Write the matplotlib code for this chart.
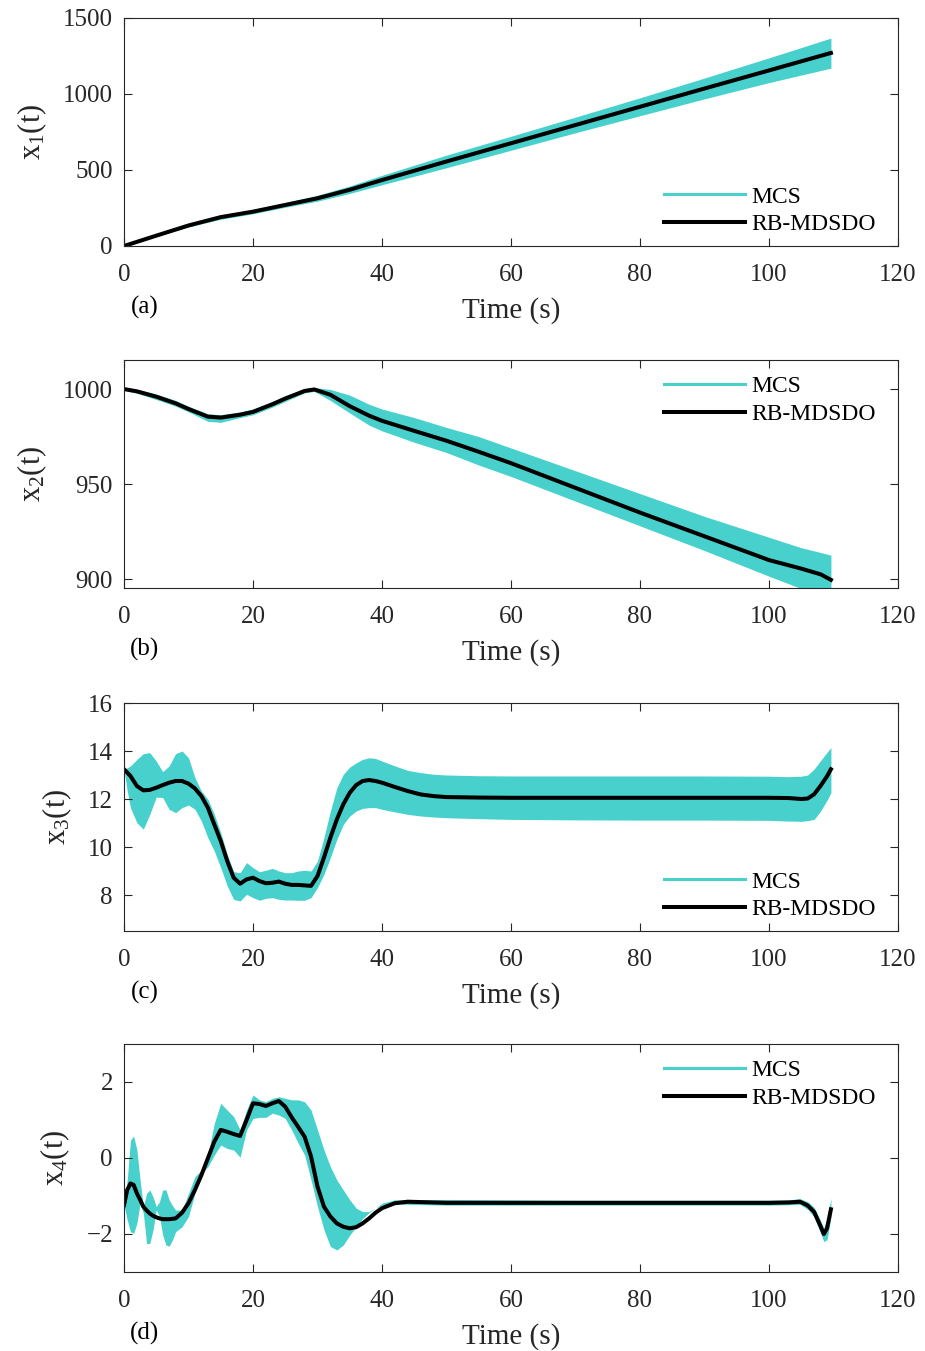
"""Four-state trajectories: MCS band vs RB-MDSDO mean"""
import numpy as np
import matplotlib
matplotlib.use('Agg')
import matplotlib.pyplot as plt

plt.rcParams['font.family'] = ['Liberation Serif', 'DejaVu Serif']
plt.rcParams['mathtext.default'] = 'regular'

BAND_COLOR = '#48D1CC'
AX_COLOR = '#262626'

# ---- x1 ----
t1 = [0, 5, 10, 15, 20, 25, 30, 35, 40, 50, 60, 70, 80, 90, 100, 109.6]
x1_mean = [0, 68, 135, 190, 226, 270, 314, 370, 434, 556, 676, 796, 916, 1036, 1155, 1270]
x1_upper = [0, 74, 145, 204, 240, 286, 334, 395, 465, 598, 722, 848, 975, 1105, 1238, 1368]
x1_lower = [0, 62, 125, 176, 212, 255, 295, 346, 403, 515, 630, 745, 857, 968, 1075, 1170]

# ---- x2 ----
t2 = [0, 2, 5, 8, 10, 13, 15, 18, 20, 23, 25, 28, 29.5, 32, 35, 38, 40, 45, 50, 55,
      60, 70, 80, 90, 100, 105, 108, 109.6]
x2_mean = [1000, 998.8, 996, 992.5, 989.5, 985.5, 985, 986.5, 988, 992, 995, 999, 999.8,
           997, 991, 986, 983.3, 978, 972.8, 967, 961, 948, 935, 922.5, 910, 905.5, 902.5, 899.6]
x2_upper = [1000.5, 999.9, 997.4, 994, 991, 987, 986.5, 988, 989.5, 993.5, 996.5, 1000.3, 1000.8,
            999.8, 996.8, 992, 989.5, 985, 979.8, 975, 969, 957, 945, 933, 922, 916.5, 914, 912.6]
x2_lower = [999.5, 997.8, 994.5, 991, 988, 983, 982.5, 985, 986.5, 990.5, 993.5, 998, 998.8,
            994, 987.4, 981, 978, 972, 966.6, 960, 954, 941, 928, 915, 901.5, 895, 891, 889]

# ---- x3 ----
t3 = [0, 0.5, 1, 2, 3, 4, 5, 6, 7, 8, 9, 10, 11, 12, 13, 14, 15, 16, 17, 18, 19, 20,
      21, 22, 23, 24, 25, 26, 27, 28, 29, 30, 31, 32, 33, 34, 35, 36, 37, 38, 39, 40,
      42, 44, 46, 48, 50, 55, 60, 70, 80, 90, 100, 103, 105, 106, 107, 108, 109, 109.6]
x3_mean = [13.24, 13.1, 12.96, 12.54, 12.36, 12.38, 12.47, 12.58, 12.68, 12.75, 12.75, 12.64,
           12.44, 12.12, 11.64, 10.94, 10.25, 9.42, 8.72, 8.47, 8.65, 8.72, 8.58, 8.49, 8.51,
           8.56, 8.47, 8.42, 8.42, 8.40, 8.38, 8.79, 9.56, 10.39, 11.15, 11.78, 12.26, 12.58,
           12.75, 12.79, 12.75, 12.68, 12.5, 12.33, 12.19, 12.12, 12.08, 12.06, 12.05, 12.05,
           12.05, 12.05, 12.05, 12.04, 12.0, 12.02, 12.2, 12.55, 12.95, 13.24]
x3_upper = [13.24, 13.3, 13.38, 13.65, 13.89, 13.93, 13.58, 13.14, 13.38, 13.89, 14.0, 13.72,
            12.89, 12.33, 11.99, 11.36, 10.6, 9.69, 8.97, 8.93, 9.35, 9.14, 8.97, 9.03, 9.11,
            9.0, 8.93, 8.93, 9.0, 9.03, 9.0, 9.42, 10.39, 11.5, 12.47, 13.03, 13.33, 13.51,
            13.65, 13.72, 13.69, 13.58, 13.38, 13.19, 13.1, 13.03, 13.0, 12.97, 12.96, 12.96,
            12.96, 12.96, 12.95, 12.93, 12.95, 13.0, 13.25, 13.6, 13.95, 14.14]
x3_lower = [13.24, 12.33, 11.64, 11.01, 10.74, 11.36, 12.08, 12.06, 11.57, 11.43, 11.64, 11.75,
            11.57, 11.08, 10.39, 9.83, 9.14, 8.38, 7.82, 7.75, 8.03, 7.89, 7.78, 7.86, 7.89,
            7.82, 7.79, 7.79, 7.78, 7.78, 7.89, 8.31, 8.86, 9.56, 10.32, 10.94, 11.29, 11.5,
            11.61, 11.64, 11.64, 11.57, 11.46, 11.36, 11.29, 11.25, 11.22, 11.18, 11.15, 11.13,
            11.12, 11.12, 11.11, 11.08, 11.07, 11.1, 11.15, 11.5, 11.95, 12.26]

# ---- x4 ----
t4 = [0, 0.5, 1, 1.5, 2, 2.5, 3, 3.5, 4, 4.5, 5, 5.5, 6, 6.5, 7, 7.5, 8, 9, 10, 11, 12,
      13, 14, 15, 16, 17, 18, 19, 20, 21, 22, 23, 24, 25, 26, 27, 28, 29, 30, 31, 32, 33,
      34, 35, 36, 37, 38, 39, 40, 42, 44, 50, 60, 70, 80, 90, 100, 103, 104.8, 106, 107,
      108, 108.5, 109, 109.6]
x4_mean = [-1.24, -0.84, -0.67, -0.71, -0.93, -1.1, -1.28, -1.38, -1.46, -1.52, -1.56, -1.59,
           -1.61, -1.61, -1.61, -1.6, -1.59, -1.44, -1.19, -0.84, -0.45, -0.01, 0.43, 0.74,
           0.69, 0.63, 0.58, 1.0, 1.44, 1.42, 1.37, 1.44, 1.5, 1.35, 1.07, 0.82, 0.56, 0.04,
           -0.75, -1.28, -1.54, -1.72, -1.81, -1.85, -1.82, -1.72, -1.59, -1.44, -1.32, -1.19,
           -1.15, -1.18, -1.18, -1.18, -1.18, -1.18, -1.18, -1.17, -1.15, -1.25, -1.42, -1.8,
           -2.0, -1.85, -1.35]
x4_upper = [-1.24, -0.58, 0.47, 0.58, 0.21, -0.58, -1.28, -0.93, -0.84, -1.02, -1.28, -1.15,
            -0.84, -0.84, -1.1, -1.25, -1.37, -1.37, -0.93, -0.49, -0.32, 0.08, 0.91, 1.44,
            1.26, 1.09, 0.74, 1.26, 1.66, 1.53, 1.48, 1.57, 1.61, 1.57, 1.53, 1.53, 1.48, 1.26,
            0.74, 0.21, -0.23, -0.58, -0.84, -1.1, -1.32, -1.41, -1.41, -1.32, -1.19, -1.1,
            -1.1, -1.09, -1.1, -1.11, -1.11, -1.11, -1.11, -1.1, -1.07, -1.15, -1.3, -1.65,
            -1.85, -1.6, -1.06]
x4_lower = [-1.24, -1.63, -1.94, -1.98, -1.72, -1.19, -1.46, -2.25, -2.25, -1.89, -1.37, -1.54,
            -2.03, -2.29, -2.32, -2.16, -1.94, -1.81, -1.54, -0.93, -0.4, -0.23, 0.08, 0.34,
            0.25, 0.21, 0.02, 0.74, 1.04, 1.07, 1.07, 1.18, 1.13, 1.04, 0.74, 0.39, 0.08, -0.58,
            -1.28, -1.89, -2.33, -2.42, -2.29, -2.03, -1.81, -1.59, -1.44, -1.32, -1.24, -1.21,
            -1.22, -1.24, -1.24, -1.24, -1.24, -1.24, -1.24, -1.23, -1.22, -1.35, -1.55, -1.98,
            -2.2, -2.15, -1.55]

panels = [
    (t1, x1_mean, x1_upper, x1_lower, r'$\mathregular{x_1(t)}$', (0, 1500), [0, 500, 1000, 1500], '(a)', 'lower'),
    (t2, x2_mean, x2_upper, x2_lower, r'$\mathregular{x_2(t)}$', (895.3, 1015.3), [900, 950, 1000], '(b)', 'upper'),
    (t3, x3_mean, x3_upper, x3_lower, r'$\mathregular{x_3(t)}$', (6.5, 16), [8, 10, 12, 14, 16], '(c)', 'lower'),
    (t4, x4_mean, x4_upper, x4_lower, r'$\mathregular{x_4(t)}$', (-3, 3), [-2, 0, 2], '(d)', 'upper'),
]

fig = plt.figure(figsize=(9.25, 13.51), dpi=100)
W, H = 925, 1351
tops = [18, 360, 703, 1044]
ax_h = 228
left, right = 124, 898

for (t, m, up, lo, ylab, ylim, yticks, tag, where), top in zip(panels, tops):
    ax = fig.add_axes([left / W, 1 - (top + ax_h) / H, (right - left) / W, ax_h / H])
    ax.fill_between(t, lo, up, color=BAND_COLOR, linewidth=0)
    mcs_h, = ax.plot([], [], color=BAND_COLOR, lw=2.2, label='MCS')
    rb_h, = ax.plot(t, m, color='black', lw=2.9, label='RB-MDSDO')

    ax.set_xlim(0, 120)
    ax.set_ylim(*ylim)
    ax.set_xticks([0, 20, 40, 60, 80, 100, 120])
    ax.set_yticks(yticks)
    ax.tick_params(direction='in', length=6, width=0.8, top=True, right=True,
                   labelsize=18, colors=AX_COLOR, pad=8)
    ax.tick_params(axis='x', pad=13)
    for sp in ax.spines.values():
        sp.set_color(AX_COLOR)
        sp.set_linewidth(0.8)

    ax.set_xlabel('Time (s)', fontsize=21, color=AX_COLOR, labelpad=8)
    ax.set_ylabel(ylab, fontsize=22, color=AX_COLOR, labelpad=10)
    ax.text(0.027, -0.27, tag, transform=ax.transAxes, ha='center', va='center',
            fontsize=18, color='black')

    if where == 'lower':
        leg_kw = dict(loc='lower right', bbox_to_anchor=(0.972, 0.048))
    else:
        leg_kw = dict(loc='upper right', bbox_to_anchor=(0.972, 0.93))
    ax.legend(handles=[mcs_h, rb_h], frameon=False, fontsize=17,
              handlelength=3.4, handletextpad=0.3, labelspacing=0.25,
              borderaxespad=0, borderpad=0, **leg_kw)

fig.savefig('out.png', dpi=100)
